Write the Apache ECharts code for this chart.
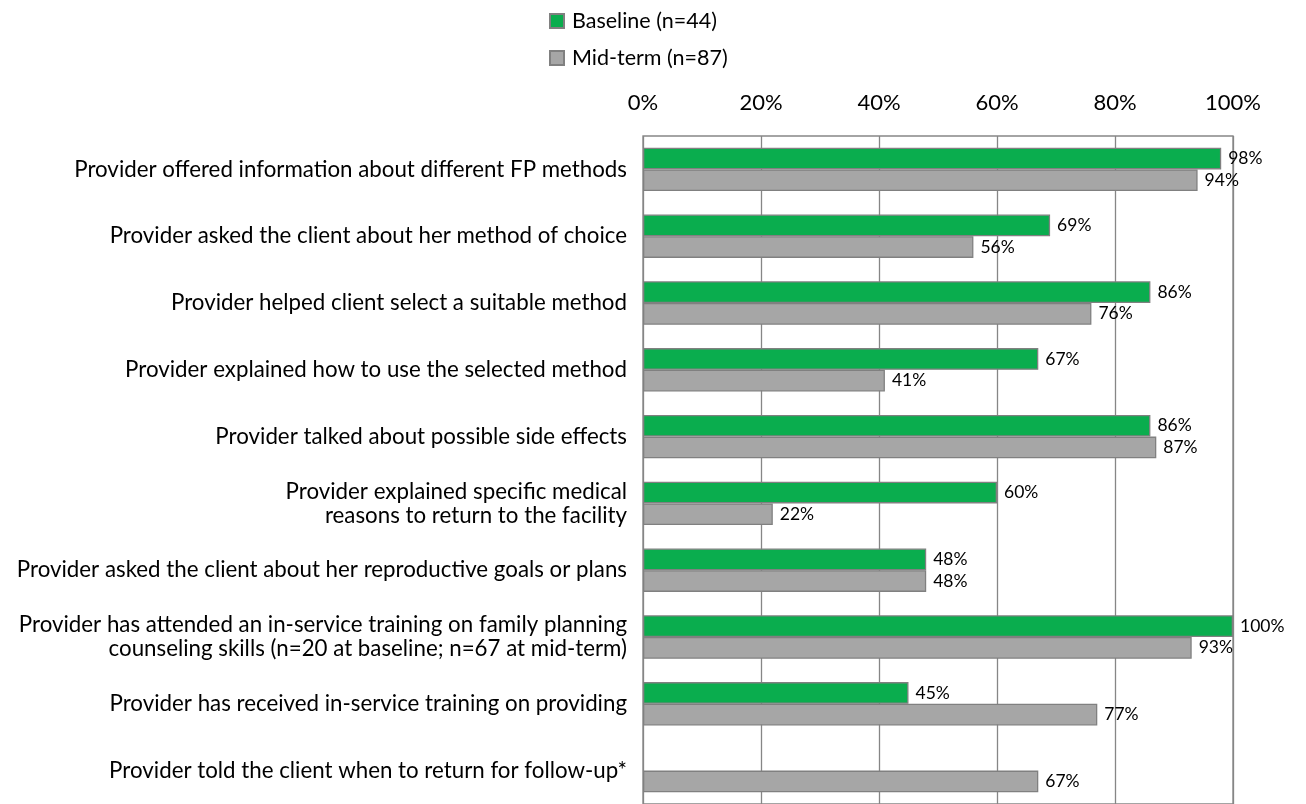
<!DOCTYPE html>
<html>
<head>
<meta charset="utf-8">
<script src="https://cdn.jsdelivr.net/npm/echarts@6/dist/echarts.min.js"></script>
<style>
html,body{margin:0;padding:0;background:#fff;}
#chart{width:1306px;height:804px;}
</style>
</head>
<body>
<div id="chart"></div>
<script>
const categories = [
  "Provider offered information about different FP methods",
  "Provider asked the client about her method of choice",
  "Provider helped client select a suitable method",
  "Provider explained how to use the selected method",
  "Provider talked about possible side effects",
  "Provider explained specific medical\nreasons to return to the facility",
  "Provider asked the client about her reproductive goals or plans",
  "Provider has attended an in-service training on family planning\ncounseling skills (n=20 at baseline; n=67 at mid-term)",
  "Provider has received in-service training on providing",
  "Provider told the client when to return for follow-up*"
];
const baseline = [98, 69, 86, 67, 86, 60, 48, 100, 45, null];
const midterm = [94, 56, 76, 41, 87, 22, 48, 93, 77, 67];
const seriesNames = ["Baseline (n=44)", "Mid-term (n=87)"];
const xTicks = [0, 20, 40, 60, 80, 100];

const FONT = "Lato, 'Open Sans', sans-serif";
const chart = echarts.init(document.getElementById('chart'), null, {renderer: 'canvas'});
const labelStyle = {
  show: true, position: 'right', distance: 7,
  fontFamily: FONT, fontSize: 17.5, color: '#000',
  formatter: p => p.value == null ? '' : p.value + '%'
};
chart.setOption({
  animation: false,
  backgroundColor: '#fff',
  textStyle: {fontFamily: FONT},
  legend: {
    orient: 'vertical', left: 544, top: 5,
    itemWidth: 14, itemHeight: 14, itemGap: 15,
    icon: 'rect',
    textStyle: {fontFamily: FONT, fontSize: 21.5, color: '#000', padding: [0, 0, 0, 3]},
    data: seriesNames
  },
  grid: {
    left: 643, top: 136, width: 590, height: 671,
    show: true, borderColor: '#868686', borderWidth: 1.3, containLabel: false
  },
  xAxis: {
    type: 'value', position: 'top', min: 0, max: 100, interval: 20,
    axisLine: {show: false}, axisTick: {show: false},
    splitLine: {show: true, lineStyle: {color: '#868686', width: 1.3}},
    axisLabel: {
      margin: 22, fontFamily: FONT, fontSize: 22, color: '#000',
      formatter: v => xTicks.includes(v) ? v + '%' : ''
    }
  },
  yAxis: {
    type: 'category', inverse: true, data: categories,
    axisLine: {show: false}, axisTick: {show: false},
    axisLabel: {
      margin: 16, fontFamily: FONT, fontSize: 22.3, color: '#000',
      lineHeight: 24, align: 'right'
    }
  },
  series: [
    {
      name: seriesNames[0], type: 'bar', data: baseline,
      barCategoryGap: '35%', barGap: '0%',
      itemStyle: {color: '#0AAD4E', borderColor: '#808080', borderWidth: 1.3},
      label: labelStyle
    },
    {
      name: seriesNames[1], type: 'bar', data: midterm,
      barCategoryGap: '35%', barGap: '0%',
      itemStyle: {color: '#A6A6A6', borderColor: '#808080', borderWidth: 1.3},
      label: labelStyle
    }
  ]
});
</script>
</body>
</html>
